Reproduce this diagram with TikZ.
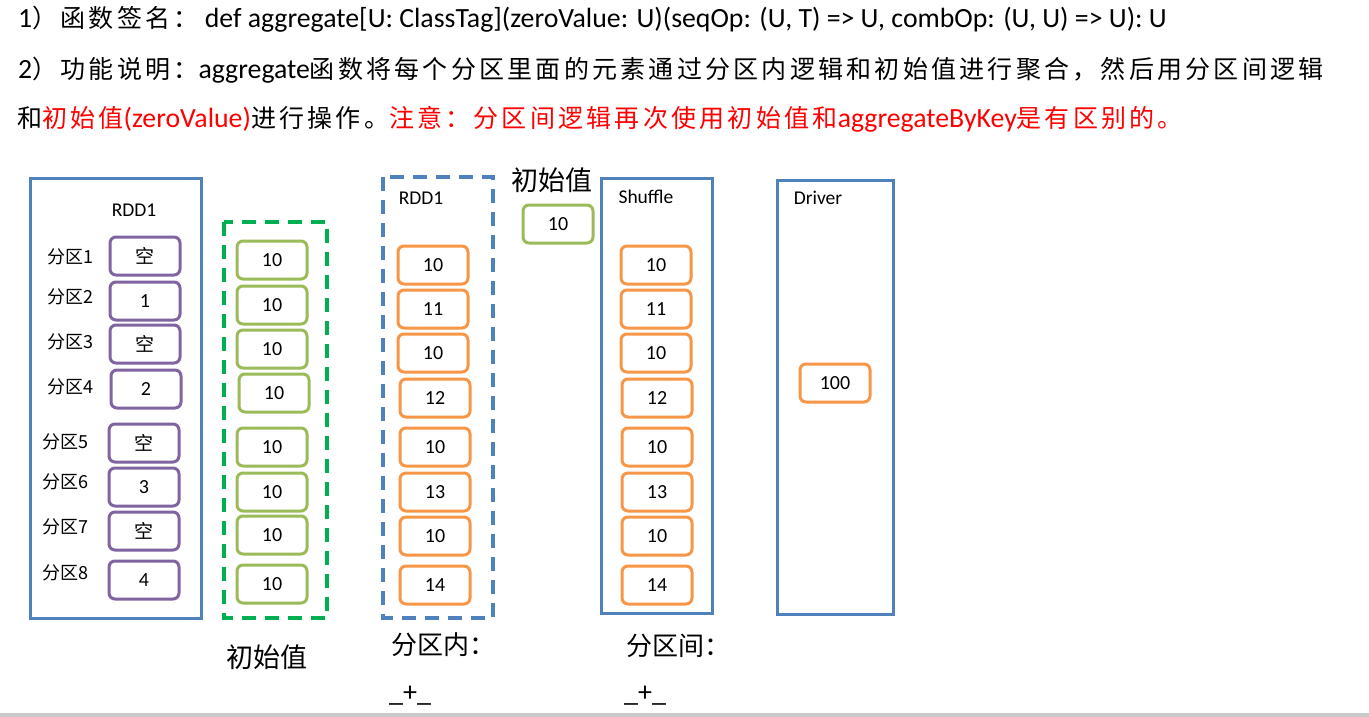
\documentclass[tikz,border=0pt]{standalone}
\usepackage{fontspec}
\setmainfont{Carlito}
\newfontfamily\cjk[LetterSpace=13]{Noto Sans CJK SC}
\newfontfamily\cjkn{Noto Sans CJK SC}
\newcommand\cj[1]{{\cjk\fontsize{25}{28}\selectfont #1}}
\definecolor{bblue}{HTML}{4F81BD}
\definecolor{ppurple}{HTML}{8064A2}
\definecolor{lgreen}{HTML}{9BBB59}
\definecolor{dgreen}{HTML}{00B050}
\definecolor{oorange}{HTML}{F79646}
\definecolor{rred}{HTML}{FF0000}
\tikzset{
  cell/.style={draw, line width=3pt, rounded corners=6pt, minimum width=70pt, minimum height=38pt, inner sep=0pt, font=\fontsize{20}{22}\selectfont, fill=white},
  pcell/.style={cell, draw=ppurple},
  gcell/.style={cell, draw=lgreen},
  ocell/.style={cell, draw=oorange},
  kcell/.style={font=\cjkn\fontsize{19}{21}\selectfont},
  frame/.style={draw=bblue, line width=3pt},
  dframe/.style={line width=4pt, dash pattern=on 14pt off 9pt},
  plabel/.style={font=\cjkn\fontsize{18}{20}\selectfont, inner sep=0pt},
  lbl/.style={font=\fontsize{19.5}{22}\selectfont, inner sep=0pt},
  big/.style={font=\cjkn\fontsize{27}{30}\selectfont, inner sep=0pt},
  line/.style={anchor=base west, inner sep=0pt, font=\fontsize{27.8}{30}\selectfont}
}
\begin{document}
\begin{tikzpicture}[x=1pt,y=-1pt]
\useasboundingbox (0,0) rectangle (1369,717);
\fill[white] (0,0) rectangle (1369,717);
\fill[black!21] (0,713) rectangle (1369,717);
% header text
\node[line] (t1) at (18,28) {1\cj{）函数签名：} def aggregate[U: ClassTag](zeroValue: U)(seqOp: (U, T) => U, combOp: (U, U) => U): U};
\node[line] (t2) at (18,79) {2\cj{）功能说明：}aggregate\cj{函数将每个分区里面的元素通过分区内逻辑和初始值进行聚合，然后用分区间逻辑}};
\node[line] (t3) at (17,128) {\cj{和}\textcolor{rred}{\cj{初始值}(zeroValue)}\cj{进行操作。}\textcolor{rred}{\cj{注意：分区间逻辑再次使用初始值和}aggregateByKey\cj{是有区别的。}}};
% frames
\draw[frame] (30,178) rectangle (201,618);
\draw[dframe, draw=dgreen] (224,222) rectangle (327,618);
\draw[dframe, draw=bblue] (383,177) rectangle (493,618);
\draw[frame] (601,178) rectangle (712,613);
\draw[frame] (777,180) rectangle (893,614);
% RDD1 left
\node[lbl] (r1) at (134,210) {RDD1};
\node[plabel] (l1) at (70,257) {分区1};
\node[plabel] (l2) at (70,297) {分区2};
\node[plabel] (l3) at (70,342) {分区3};
\node[plabel] (l4) at (70,387) {分区4};
\node[plabel] (l5) at (65,442) {分区5};
\node[plabel] (l6) at (65,482) {分区6};
\node[plabel] (l7) at (65,527) {分区7};
\node[plabel] (l8) at (65,573) {分区8};
\node[pcell, kcell] (p1) at (145,256) {空};
\node[pcell] (p2) at (145,301) {1};
\node[pcell, kcell] (p3) at (145,344) {空};
\node[pcell] (p4) at (146,389) {2};
\node[pcell, kcell] (p5) at (144,443) {空};
\node[pcell] (p6) at (144,487) {3};
\node[pcell, kcell] (p7) at (144,531) {空};
\node[pcell] (p8) at (144,580) {4};
% green initial values
\node[gcell] (g1) at (272,260) {10};
\node[gcell] (g2) at (272,305) {10};
\node[gcell] (g3) at (272,349) {10};
\node[gcell] (g4) at (274,393) {10};
\node[gcell] (g5) at (272,447) {10};
\node[gcell] (g6) at (272,492) {10};
\node[gcell] (g7) at (272,535) {10};
\node[gcell] (g8) at (272,584) {10};
\node[big] (z1) at (267,657) {初始值};
% RDD1 after seqOp
\node[lbl] (r2) at (421,198) {RDD1};
\node[ocell] (a1) at (433,265) {10};
\node[ocell] (a2) at (433,309) {11};
\node[ocell] (a3) at (433,353) {10};
\node[ocell] (a4) at (435,398) {12};
\node[ocell] (a5) at (435,447) {10};
\node[ocell] (a6) at (435,492) {13};
\node[ocell] (a7) at (435,536) {10};
\node[ocell] (a8) at (435,585) {14};
\node[big] (z2) at (552,180) {初始值};
\node[gcell] (g0) at (558,224) {10};
% Shuffle
\node[lbl] (sh) at (646,197) {Shuffle};
\node[ocell] (b1) at (656,265) {10};
\node[ocell] (b2) at (656,309) {11};
\node[ocell] (b3) at (656,353) {10};
\node[ocell] (b4) at (657,398) {12};
\node[ocell] (b5) at (657,447) {10};
\node[ocell] (b6) at (657,492) {13};
\node[ocell] (b7) at (657,536) {10};
\node[ocell] (b8) at (657,585) {14};
% Driver
\node[lbl] (dr) at (818,198) {Driver};
\node[ocell] (d1) at (835,383) {100};
% bottom labels
\node[big, anchor=west, font=\cjkn\fontsize{26}{29}\selectfont] (k1) at (391,645) {分区内：};
\node[big, anchor=west, font=\cjkn\fontsize{26}{29}\selectfont] (k2) at (626,646) {分区间：};
\node[line, font=\fontsize{28}{30}\selectfont] (o1) at (389,701) {\_+\_};
\node[line, font=\fontsize{28}{30}\selectfont] (o2) at (624,701) {\_+\_};
\end{tikzpicture}
\end{document}
